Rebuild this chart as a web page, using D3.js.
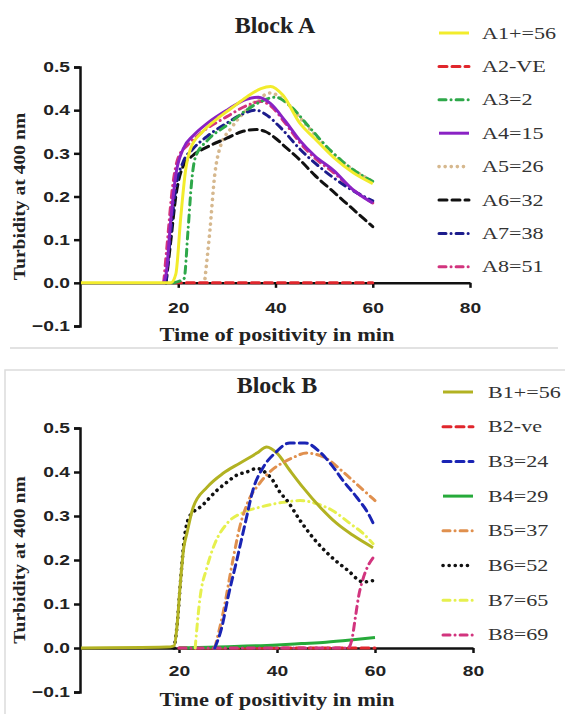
<!DOCTYPE html>
<html>
<head>
<meta charset="utf-8">
<script src="https://cdn.jsdelivr.net/npm/d3@7"></script>
<style>
  body { margin: 0; background: #fff; }
  svg { display: block; }
</style>
</head>
<body>
<script>
// ---- data: [time in min, turbidity] ----
const a1 = [[0,0],[18.5,0],[19.5,0.02],[20.5,0.15],[21.5,0.26],[22.5,0.31],[25,0.35],[28,0.38],[31,0.405],[34,0.43],[37,0.45],[39,0.455],[41.5,0.435],[45,0.37],[48,0.335],[52,0.29],[56,0.255],[60,0.23]]
const a2 = [[19,0],[60,0]]
const a3 = [[19,0],[21.2,0.01],[22,0.12],[22.8,0.24],[23.5,0.29],[26,0.33],[30,0.365],[34,0.4],[37,0.42],[40,0.43],[43,0.41],[47,0.36],[51,0.31],[55,0.27],[60,0.235]]
const a4 = [[17,0],[17.5,0.02],[18.5,0.15],[19.5,0.25],[21,0.31],[23,0.34],[26,0.37],[30,0.4],[34,0.425],[36.5,0.43],[39,0.415],[42,0.375],[45,0.33],[48,0.295],[52,0.26],[56,0.215],[60,0.185]]
const a5 = [[25.5,0.01],[26.5,0.12],[27.5,0.25],[28.5,0.31],[31,0.36],[34,0.4],[37,0.43],[39,0.44],[42,0.42],[46,0.37],[50,0.32],[55,0.27],[60,0.235]]
const a6 = [[17.5,0],[18.5,0.1],[19.5,0.2],[21,0.27],[23,0.295],[26,0.315],[30,0.335],[33,0.35],[36,0.355],[38,0.35],[40,0.335],[42,0.315],[45,0.285],[48,0.25],[52,0.21],[56,0.17],[60,0.13]]
const a7 = [[17.5,0],[18.5,0.12],[19.5,0.22],[21,0.28],[23,0.31],[26,0.34],[30,0.37],[33,0.39],[36,0.4],[38,0.39],[41,0.36],[45,0.31],[50,0.26],[55,0.22],[60,0.19]]
const a8 = [[17,0],[17.8,0.1],[18.8,0.22],[20,0.29],[22,0.32],[25,0.35],[30,0.385],[34,0.41],[37,0.42],[39,0.41],[42,0.37],[45,0.325],[48,0.29],[52,0.255],[56,0.215],[60,0.185]]

const b1 = [[0,0],[17.5,0.002],[19,0.005],[19.6,0.05],[20.2,0.137],[21,0.23],[21.6,0.26],[22.9,0.32],[25.7,0.365],[29,0.397],[32.4,0.42],[35.9,0.443],[37.9,0.457],[40,0.443],[42.6,0.404],[45.3,0.365],[48.8,0.32],[52.2,0.283],[55.5,0.256],[59.6,0.228]]
const b2 = [[20,0],[60,0]]
const b3 = [[27.3,0],[28.8,0.05],[30,0.115],[31.8,0.2],[33.5,0.283],[35.2,0.363],[37.2,0.411],[39.6,0.443],[42.6,0.466],[45.7,0.466],[48.8,0.445],[51.2,0.415],[53.5,0.38],[56.3,0.342],[58.6,0.306],[60,0.275]]
const b4 = [[20,0],[30,0.003],[40,0.007],[45,0.01],[50,0.013],[55,0.018],[60,0.024]]
const b5 = [[27.3,0],[29,0.08],[31,0.2],[32.4,0.275],[34,0.33],[36.5,0.375],[39,0.405],[41,0.42],[43.3,0.433],[46,0.443],[48,0.44],[50.2,0.43],[53.5,0.4],[57,0.365],[60,0.335]]
const b6 = [[19,0],[19.6,0.05],[20.3,0.15],[21,0.24],[21.8,0.29],[23,0.31],[24.3,0.32],[27.7,0.358],[29.8,0.377],[31.8,0.393],[33.8,0.4],[35.9,0.408],[37.5,0.4],[39.2,0.38],[40.6,0.354],[42,0.336],[44.7,0.29],[47.4,0.25],[50.8,0.21],[54.5,0.176],[57.6,0.15],[59.5,0.153]]
const b7 = [[23.3,0],[24.3,0.115],[25.7,0.183],[27.3,0.237],[29.8,0.283],[33.1,0.308],[36.5,0.32],[41.2,0.331],[44.7,0.335],[48.1,0.328],[51.4,0.312],[54.9,0.283],[57.6,0.26],[59.6,0.237]]
const b8 = [[20,0],[54.5,0],[55.3,0.02],[56,0.07],[56.7,0.12],[57.5,0.155],[58.5,0.185],[59.6,0.205]]

const labelsA = ['A1+=56', 'A2-VE', 'A3=2', 'A4=15', 'A5=26', 'A6=32', 'A7=38', 'A8=51']
const labelsB = ['B1+=56', 'B2-ve', 'B3=24', 'B4=29', 'B5=37', 'B6=52', 'B7=65', 'B8=69']
const seriesA = [a1, a2, a3, a4, a5, a6, a7, a8]
const seriesB = [b1, b2, b3, b4, b5, b6, b7, b8]
const yTicks = [-0.1, 0, 0.1, 0.2, 0.3, 0.4, 0.5]
const xTicks = [20, 40, 60, 80]

// ---- styles ----
const colorsA = ['#f2ec2c', '#e0262c', '#2ea84a', '#8a22c4', '#d6b88e', '#111111', '#1c1c8c', '#d2347e']
const colorsB = ['#b2b222', '#e0262c', '#1a24b4', '#26aa3a', '#e0904e', '#111111', '#e6f04e', '#d2347e']
const dash = { solid: null, dash: '8,5', dashdot: '7,5,0.1,5', dot: '0.1,6' }
const stylesA = ['solid', 'dash', 'dashdot', 'solid', 'dot', 'dash', 'dashdot', 'dashdot']
const stylesB = ['solid', 'dash', 'dash', 'solid', 'dashdot', 'dot', 'dashdot', 'dashdot']
const orderA = [1, 4, 5, 7, 6, 2, 3, 0]
const orderB = [1, 3, 7, 6, 5, 0, 4, 2]

const serif = '"Liberation Serif", "Times New Roman", serif'
const sans = '"Liberation Sans", Arial, sans-serif'

const svg = d3.select('body').append('svg')
  .attr('width', 565)
  .attr('height', 725)

// widen text the way the source picture does
function stretch(sel, k) {
  sel.each(function () {
    const w = this.getComputedTextLength()
    d3.select(this).attr('textLength', w * k).attr('lengthAdjust', 'spacingAndGlyphs')
  })
}

// frame lines around block B
svg.append('line').attr('x1', 10).attr('x2', 558).attr('y1', 348).attr('y2', 348)
  .attr('stroke', '#d8d8d8').attr('stroke-width', 1.5)
svg.append('path').attr('d', 'M5,714V370H565')
  .attr('fill', 'none').attr('stroke', '#dcdcdc').attr('stroke-width', 1.5)

function drawPanel(p) {
  const g = svg.append('g')
  const x = d3.scaleLinear().domain([0, 80]).range(p.xRange)
  const y = d3.scaleLinear().domain([-0.1, 0.5]).range(p.yRange)

  // y axis
  const ya = g.append('g')
    .attr('transform', `translate(${p.xRange[0] - 1},0)`)
    .call(d3.axisLeft(y).tickValues(yTicks).tickFormat(d3.format('.1f')).tickSize(6).tickPadding(4))
  ya.selectAll('text').attr('font-family', sans).attr('font-weight', 'bold').attr('font-size', 15).attr('fill', '#222')
  stretch(ya.selectAll('text'), 1.28)

  // x axis sits on zero
  const xa = g.append('g')
    .attr('transform', `translate(0,${y(0)})`)
    .call(d3.axisBottom(x).tickValues(xTicks).tickSizeInner(5).tickSizeOuter(0).tickPadding(p.xPad))
  xa.selectAll('text').attr('font-family', sans).attr('font-weight', 'bold').attr('font-size', 15).attr('fill', '#222')
  stretch(xa.selectAll('text'), 1.28)

  g.selectAll('.domain, .tick line').attr('stroke', '#111').attr('stroke-width', 2.5)

  // curves
  const line = d3.line().x(d => x(d[0])).y(d => y(d[1])).curve(d3.curveMonotoneX)
  p.order.forEach(i => {
    g.append('path')
      .datum(p.series[i])
      .attr('d', line)
      .attr('fill', 'none')
      .attr('stroke', p.colors[i])
      .attr('stroke-width', p.styles[i] === 'dot' ? 3.6 : 3)
      .attr('stroke-linecap', p.styles[i] === 'solid' ? 'butt' : 'round')
      .attr('stroke-dasharray', dash[p.styles[i]])
  })

  // titles
  g.append('text')
    .attr('x', p.titleX).attr('y', p.titleY)
    .attr('text-anchor', 'middle')
    .attr('font-family', serif).attr('font-weight', 'bold').attr('font-size', 24)
    .attr('fill', '#222')
    .text(p.title)

  const xt = g.append('text')
    .attr('x', 277).attr('y', p.xTitleY)
    .attr('text-anchor', 'middle')
    .attr('font-family', serif).attr('font-weight', 'bold').attr('font-size', 19)
    .attr('fill', '#222')
    .text('Time of positivity in min')
  stretch(xt, 1.18)

  const yc = (p.yRange[0] + p.yRange[1]) / 2
  const yt = g.append('text')
    .attr('transform', `translate(25,${yc}) rotate(-90)`)
    .attr('text-anchor', 'middle')
    .attr('font-family', serif).attr('font-weight', 'bold').attr('font-size', 17.5)
    .attr('fill', '#222')
    .text('Turbidity at 400 nm')
  stretch(yt, 1.12)

  // legend
  const leg = g.selectAll('.legend-item')
    .data(p.labels)
    .join('g')
    .attr('class', 'legend-item')
    .attr('transform', (d, i) => `translate(0,${p.legY + i * p.legStep})`)

  leg.append('line')
    .attr('x1', p.legX).attr('x2', p.legX + 30)
    .attr('stroke', (d, i) => p.colors[i])
    .attr('stroke-width', (d, i) => p.styles[i] === 'dot' ? 3.6 : 3)
    .attr('stroke-linecap', (d, i) => p.styles[i] === 'solid' ? 'butt' : 'round')
    .attr('stroke-dasharray', (d, i) => dash[p.styles[i]])

  const lt = leg.append('text')
    .attr('x', p.legTextX).attr('y', 5.5)
    .attr('font-family', serif).attr('font-size', 17)
    .attr('fill', '#333')
    .text(d => d)
  stretch(lt, 1.3)
}

drawPanel({
  series: seriesA, labels: labelsA, colors: colorsA, styles: stylesA, order: orderA,
  xRange: [81, 470], yRange: [326, 67], xPad: 15,
  title: 'Block A', titleX: 275, titleY: 33, xTitleY: 341,
  legX: 439, legTextX: 482, legY: 33, legStep: 33.4
})

drawPanel({
  series: seriesB, labels: labelsB, colors: colorsB, styles: stylesB, order: orderB,
  xRange: [81, 473], yRange: [692, 428], xPad: 12,
  title: 'Block B', titleX: 277, titleY: 393, xTitleY: 706,
  legX: 443, legTextX: 488, legY: 392, legStep: 34.7
})
</script>
</body>
</html>
